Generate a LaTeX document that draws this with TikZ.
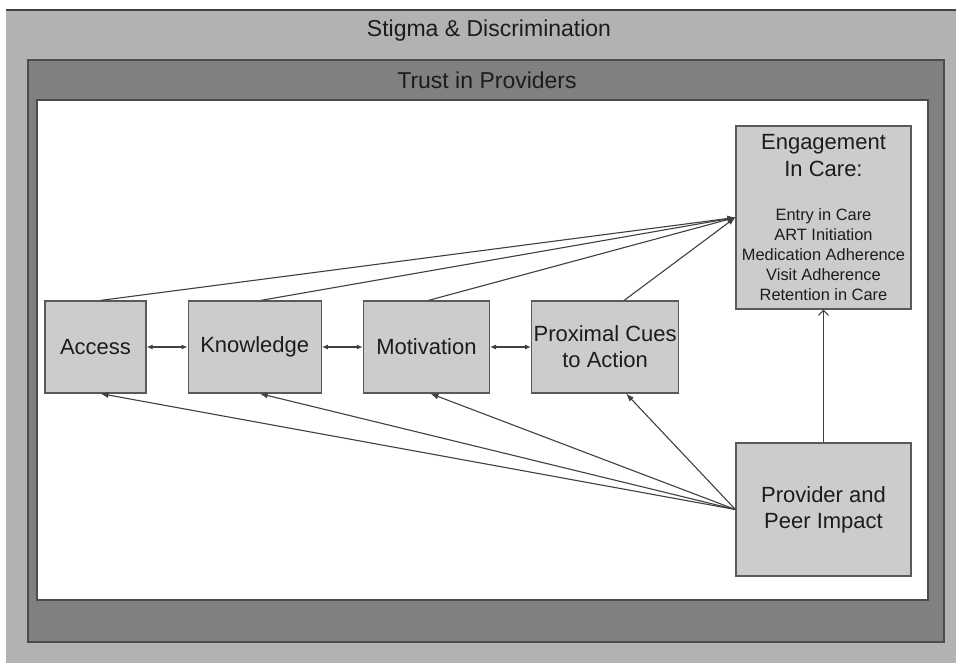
\documentclass[tikz,border=0pt]{standalone}
\usepackage{fontspec}
\setmainfont{Liberation Sans}
\usetikzlibrary{arrows.meta,positioning}
\definecolor{stigmagray}{HTML}{B2B2B2}
\definecolor{trustgray}{HTML}{808080}
\definecolor{boxgray}{HTML}{CCCCCC}
\definecolor{edgegray}{HTML}{5A5A5A}
\definecolor{inkgray}{HTML}{1C1C1C}
\newcommand{\listsize}{\fontsize{16.4}{20}\selectfont}
\newcommand{\titlesize}{\fontsize{22}{27}\selectfont}
\begin{document}
\begin{tikzpicture}[x=1pt,y=-1pt,
	box/.style={draw=edgegray, fill=boxgray, line width=1.2pt, text=inkgray, align=center, inner sep=2pt, minimum height=92pt, font=\fontsize{22}{26}\selectfont},
	link/.style={draw=black!75, line width=1.1pt},
	tip/.style={-{Latex[length=8pt,width=6pt]}},
	both/.style={{Latex[length=6pt,width=5pt]}-{Latex[length=6pt,width=5pt]}},
	node distance=41pt]
	\useasboundingbox (0,0) rectangle (956,662);
	% frames
	\fill[stigmagray] (6,10) rectangle (970,680);
	\draw[black!75, line width=2pt] (6,10) -- (970,10);
	\filldraw[fill=trustgray, draw=black!70, line width=1.6pt] (28,60) rectangle (944,642);
	\filldraw[fill=white, draw=black!70, line width=1.4pt] (37,100) rectangle (928,600);
	\node[font=\fontsize{23}{27}\selectfont, text=inkgray] (stigma) at (489,31) {Stigma \& Discrimination};
	\node[font=\fontsize{23}{27}\selectfont, text=inkgray] (trust) at (487,80) {Trust in Providers};
	% boxes
	\node[box, minimum width=101pt] (access) at (95.5,347) {Access};
	\node[box, minimum width=133pt, right=of access] (know) {Knowledge};
	\node[box, minimum width=126pt, right=of know] (motiv) {Motivation};
	\node[box, minimum width=122pt, right=of motiv] (prox) {Proximal Cues\\to Action};
	\node[box, minimum width=175pt, minimum height=183pt, font=\listsize] (engage) at (823.5,217.5) {\titlesize Engagement\\[7pt]\titlesize In Care:\\[24pt]Entry in Care\\ART Initiation\\Medication Adherence\\Visit Adherence\\Retention in Care};
	\node[box, minimum width=175pt, minimum height=133pt] (impact) at (823.5,509.5) {Provider and\\Peer Impact};
	% arrows
	\foreach \a/\b in {access/know, know/motiv, motiv/prox}
		\draw[link, both] (\a) -- (\b);
	\foreach \n/\dx in {access/5, know/6, motiv/2, prox/19}
		\draw[link, tip] ([xshift=\dx pt]\n.north) -- (engage.west);
	\foreach \n/\dx in {access/5, know/5, motiv/4, prox/21}
		\draw[link, tip] (impact.west) -- ([xshift=\dx pt]\n.south);
	\draw[link, -{Straight Barb[length=5pt]}] (impact) -- (engage);
\end{tikzpicture}
\end{document}
